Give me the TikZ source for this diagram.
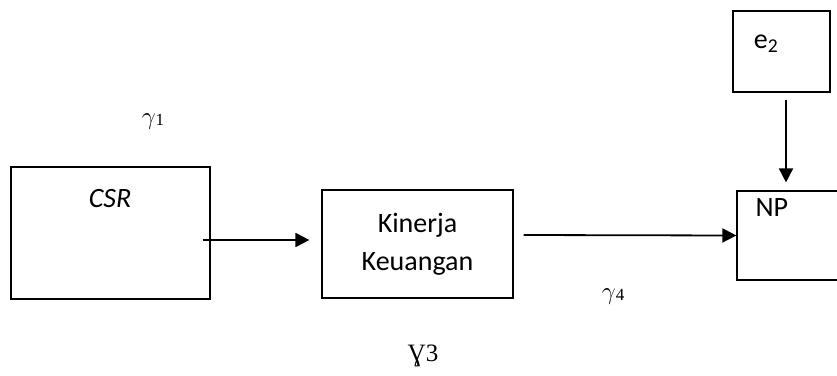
\documentclass[tikz,border=0pt]{standalone}
\usepackage{fontspec}
\setmainfont{Carlito}
\newfontfamily\timesf{Liberation Serif}
\usepackage{tikz}
\usetikzlibrary{arrows.meta, positioning, calc}

\tikzset{
    box/.style={draw, line width=1.2pt, minimum width=#1, inner sep=0pt},
    arr/.style={line width=1.8pt, -{Triangle[length=14pt, width=14pt]}},
    coef/.style={font=\fontsize{25}{30}\timesf}
}

\begin{document}
\begin{tikzpicture}[x=1pt, y=-1pt, font=\fontsize{28}{38}\selectfont]
    \useasboundingbox (0,0) rectangle (837,375);

    % Boxes
    \node[box=199pt, minimum height=132pt] (csr) at (110.5,233) {};
    \node[font=\fontsize{28}{38}\selectfont\itshape] at (110,199) {CSR};

    \node[box=191pt, minimum height=108pt, align=center] (kinerja) at (417.5,244) {Kinerja\\Keuangan};

    \node[box=120pt, minimum height=89pt] (np) at (797,235.5) {};
    \node[anchor=west] at (752,208) {NP};

    \node[box=97pt, minimum height=81pt] (e2) at (781.5,51.5) {};
    \node at (766,44) {e\textsubscript{2}};

    % Arrows
    \draw[arr] ([xshift=-8pt, yshift=-7pt]csr.east) -- ([xshift=-12pt, yshift=4pt]kinerja.west);
    \draw[arr] ([xshift=10pt, yshift=9pt]kinerja.east) -- (np.west);
    \draw[arr, shorten <=7pt, shorten >=8pt] ([xshift=4.5pt]e2.south) -- ([xshift=4.5pt]e2.south |- np.north);

    % Coefficients
    \node[coef] at (153,122) {$\gamma$\raisebox{-1pt}{\fontsize{17}{20}\selectfont 1}};
    \node[coef] at (613,297) {$\gamma$\raisebox{-1pt}{\fontsize{17}{20}\selectfont 4}};
    \node[coef] at (423,356) {Ɣ3};
\end{tikzpicture}
\end{document}
